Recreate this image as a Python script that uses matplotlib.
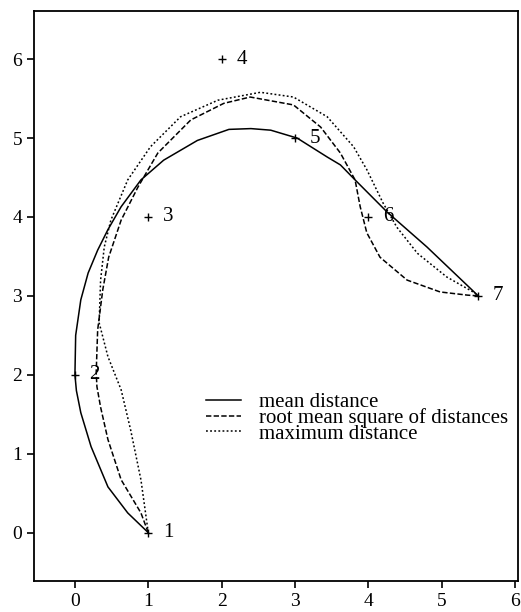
import numpy as np
import matplotlib
matplotlib.use("Agg")
import matplotlib.pyplot as plt

plt.rcParams['font.family'] = ['Liberation Serif', 'DejaVu Serif']

# data points and their labels
pt_x = [1, 0, 1, 2, 3, 4, 5.5]
pt_y = [0, 2, 4, 6, 5, 4, 3]
pt_lab = ['1', '2', '3', '4', '5', '6', '7']

# curves
mean_x = [1.0, 0.72, 0.45, 0.22, 0.08, 0.02, 0.0, 0.01, 0.08, 0.18, 0.31, 0.45, 0.63,
          0.9, 1.21, 1.67, 2.1, 2.4, 2.67, 3.03, 3.44, 3.62, 3.82, 4.26, 4.80, 5.5]
mean_y = [0.0, 0.25, 0.58, 1.09, 1.52, 1.8, 2.0, 2.5, 2.95, 3.29, 3.58, 3.84, 4.13,
          4.47, 4.72, 4.97, 5.11, 5.12, 5.10, 5.0, 4.76, 4.66, 4.47, 4.06, 3.62, 3.0]

rms_x = [1.0, 0.9, 0.63, 0.45, 0.35, 0.30, 0.29, 0.31, 0.38, 0.46, 0.63, 0.86, 1.13,
         1.58, 2.03, 2.39, 2.98, 3.35, 3.62, 3.82, 3.89, 3.98, 4.16, 4.53, 4.98, 5.35, 5.5]
rms_y = [0.0, 0.25, 0.67, 1.18, 1.59, 1.85, 2.03, 2.57, 3.08, 3.49, 3.96, 4.38, 4.81,
         5.23, 5.44, 5.52, 5.42, 5.14, 4.81, 4.47, 4.13, 3.80, 3.49, 3.20, 3.05, 3.01, 3.0]

max_x = [1.0, 0.9, 0.76, 0.63, 0.45, 0.33, 0.35, 0.40, 0.49, 0.72, 1.03, 1.44,
         1.95, 2.53, 2.98, 3.44, 3.80, 3.98, 4.20, 4.39, 4.67, 5.07, 5.43, 5.5]
max_y = [0.0, 0.67, 1.30, 1.81, 2.23, 2.66, 3.2, 3.62, 3.96, 4.47, 4.89, 5.27,
         5.48, 5.58, 5.52, 5.27, 4.89, 4.60, 4.18, 3.87, 3.54, 3.24, 3.05, 3.0]

fig = plt.figure(figsize=(5.21, 6.12), dpi=100)
ax = fig.add_axes([0.065, 0.051, 0.929, 0.931])

ax.plot(mean_x, mean_y, '-', color='black', lw=1.1, label='mean distance')
ax.plot(rms_x, rms_y, color='black', lw=1.1, linestyle=(0, (3.5, 1.5)),
        label='root mean square of distances')
ax.plot(max_x, max_y, color='black', lw=1.1, linestyle=(0, (1.2, 1.5)),
        label='maximum distance')

ax.plot(pt_x, pt_y, '+', color='black', ms=6, mew=1)
for x, y, s in zip(pt_x, pt_y, pt_lab):
    ax.text(x + 0.2, y, s, fontsize=15, va='center', ha='left')

ax.set_xlim(-0.56, 6.04)
ax.set_ylim(-0.61, 6.61)
ax.set_xticks(range(0, 7))
ax.set_yticks(range(0, 7))
ax.tick_params(direction='out', length=5, width=1.2, labelsize=14,
               top=False, right=False)
for sp in ax.spines.values():
    sp.set_linewidth(1.3)

ax.legend(loc='upper left', bbox_to_anchor=(0.355, 0.33), frameon=False,
          fontsize=15, handlelength=1.7, handletextpad=0.85, labelspacing=-0.2,
          borderpad=0, borderaxespad=0)

fig.savefig('out.png', dpi=100)
